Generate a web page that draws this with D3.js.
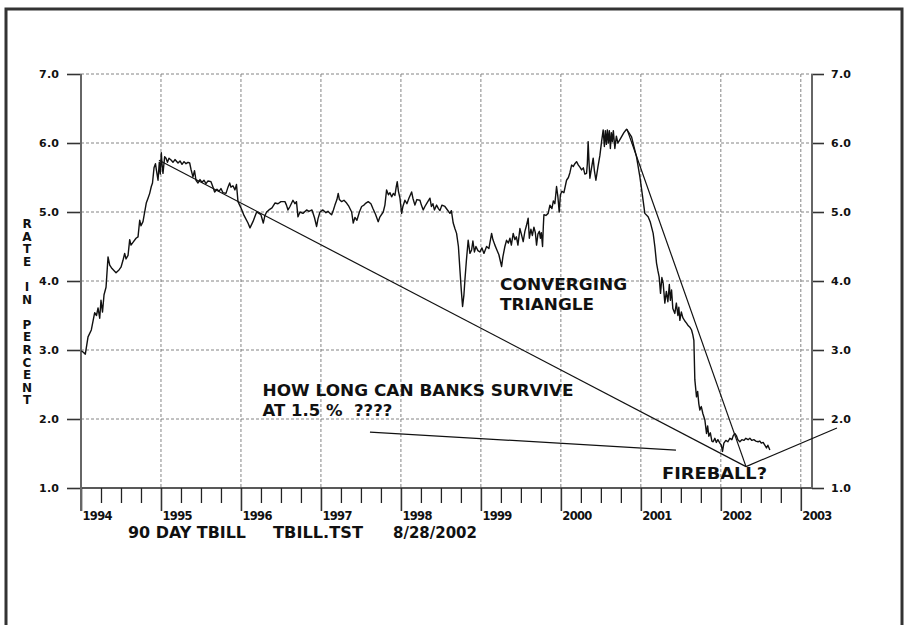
<!DOCTYPE html>
<html>
<head>
<meta charset="utf-8">
<title>90 DAY TBILL</title>
<script src="https://cdn.jsdelivr.net/npm/d3@7/dist/d3.min.js"></script>
<style>
  body { margin: 0; background: #fff; }
  svg text { font-family: "DejaVu Sans", Arial, sans-serif; font-weight: bold; fill: #111; }
</style>
</head>
<body>
<div id="chart"></div>
<script>
// year ticks and rate ticks
var years = [1994, 1995, 1996, 1997, 1998, 1999, 2000, 2001, 2002, 2003];
var rateTicks = [1, 2, 3, 4, 5, 6, 7];
var yLabel = ["R", "A", "T", "E", "", "I", "N", "", "P", "E", "R", "C", "E", "N", "T"];

// 90 day tbill rate, [decimal year, percent]
var tbill = [
  [1994.004, 2.99], [1994.025, 2.97], [1994.054, 2.94], [1994.088, 3.19], [1994.129, 3.29],
  [1994.171, 3.54], [1994.194, 3.50], [1994.213, 3.61], [1994.234, 3.46], [1994.25, 3.72],
  [1994.269, 3.55], [1994.288, 3.80], [1994.313, 3.91], [1994.338, 4.35], [1994.359, 4.23],
  [1994.388, 4.18], [1994.438, 4.12], [1994.475, 4.16], [1994.5, 4.20], [1994.525, 4.30],
  [1994.546, 4.40], [1994.563, 4.32], [1994.588, 4.37], [1994.609, 4.60], [1994.625, 4.52],
  [1994.65, 4.56], [1994.688, 4.62], [1994.713, 4.64], [1994.734, 4.88], [1994.75, 4.80],
  [1994.775, 4.86], [1994.816, 5.13], [1994.838, 5.20], [1994.859, 5.27], [1994.879, 5.37],
  [1994.894, 5.42], [1994.913, 5.64], [1994.931, 5.70], [1994.944, 5.60], [1994.963, 5.46],
  [1994.979, 5.72], [1994.991, 5.55], [1995.004, 5.86], [1995.013, 5.70], [1995.025, 5.56],
  [1995.046, 5.80], [1995.063, 5.78], [1995.081, 5.72], [1995.1, 5.78], [1995.129, 5.75],
  [1995.15, 5.72], [1995.175, 5.76], [1995.213, 5.71], [1995.238, 5.74], [1995.263, 5.69],
  [1995.288, 5.73], [1995.313, 5.70], [1995.338, 5.72], [1995.359, 5.71], [1995.375, 5.62],
  [1995.4, 5.51], [1995.419, 5.60], [1995.438, 5.46], [1995.463, 5.42], [1995.488, 5.47],
  [1995.513, 5.43], [1995.538, 5.46], [1995.563, 5.41], [1995.588, 5.45], [1995.625, 5.44],
  [1995.644, 5.38], [1995.671, 5.29], [1995.7, 5.33], [1995.725, 5.30], [1995.75, 5.34],
  [1995.775, 5.28], [1995.813, 5.27], [1995.838, 5.36], [1995.859, 5.42], [1995.875, 5.36],
  [1995.9, 5.38], [1995.925, 5.32], [1995.944, 5.40], [1995.963, 5.15], [1996.0, 5.06],
  [1996.038, 4.95], [1996.088, 4.84], [1996.113, 4.77], [1996.15, 4.86], [1996.196, 5.00],
  [1996.225, 4.98], [1996.25, 4.96], [1996.279, 4.84], [1996.3, 4.95], [1996.321, 5.00],
  [1996.35, 5.03], [1996.388, 5.06], [1996.425, 5.13], [1996.463, 5.12], [1996.5, 5.15],
  [1996.55, 5.15], [1996.569, 5.10], [1996.588, 5.03], [1996.613, 5.08], [1996.65, 5.17],
  [1996.675, 5.12], [1996.694, 5.15], [1996.713, 4.93], [1996.738, 5.00], [1996.775, 4.98],
  [1996.821, 5.03], [1996.85, 5.01], [1996.888, 5.03], [1996.919, 4.92], [1996.946, 4.79],
  [1996.963, 4.90], [1996.988, 5.00], [1997.025, 5.03], [1997.063, 4.99], [1997.088, 5.01],
  [1997.113, 4.98], [1997.134, 4.96], [1997.156, 5.03], [1997.175, 5.10], [1997.2, 5.18],
  [1997.216, 5.27], [1997.231, 5.18], [1997.259, 5.15], [1997.288, 5.17], [1997.321, 5.13],
  [1997.35, 5.08], [1997.384, 5.00], [1997.404, 4.84], [1997.425, 4.92], [1997.45, 4.88],
  [1997.481, 5.00], [1997.509, 5.08], [1997.538, 5.10], [1997.563, 5.13], [1997.591, 5.15],
  [1997.625, 5.12], [1997.65, 5.05], [1997.681, 4.97], [1997.716, 4.86], [1997.738, 4.93],
  [1997.779, 5.00], [1997.8, 5.10], [1997.821, 5.32], [1997.844, 5.25], [1997.863, 5.28],
  [1997.884, 5.22], [1997.906, 5.27], [1997.925, 5.24], [1997.941, 5.36], [1997.954, 5.44],
  [1997.969, 5.30], [1997.988, 5.20], [1998.009, 4.98], [1998.025, 5.08], [1998.05, 5.17],
  [1998.075, 5.12], [1998.1, 5.20], [1998.134, 5.29], [1998.15, 5.20], [1998.175, 5.10],
  [1998.2, 5.18], [1998.238, 5.17], [1998.256, 5.10], [1998.279, 5.03], [1998.3, 5.08],
  [1998.325, 5.13], [1998.363, 5.20], [1998.381, 5.08], [1998.4, 5.12], [1998.419, 5.03],
  [1998.446, 5.10], [1998.469, 5.05], [1998.488, 5.02], [1998.513, 5.10], [1998.55, 5.08],
  [1998.575, 5.04], [1998.613, 4.98], [1998.631, 5.02], [1998.654, 4.84], [1998.675, 4.76],
  [1998.696, 4.69], [1998.719, 4.50], [1998.738, 4.16], [1998.756, 3.85], [1998.771, 3.63],
  [1998.788, 3.80], [1998.8, 4.01], [1998.819, 4.30], [1998.841, 4.59], [1998.863, 4.40],
  [1998.884, 4.45], [1998.9, 4.58], [1998.919, 4.42], [1998.938, 4.50], [1998.963, 4.44],
  [1998.988, 4.42], [1999.013, 4.48], [1999.038, 4.40], [1999.071, 4.50], [1999.1, 4.47],
  [1999.134, 4.69], [1999.15, 4.60], [1999.175, 4.52], [1999.2, 4.45], [1999.225, 4.38],
  [1999.259, 4.21], [1999.275, 4.35], [1999.3, 4.50], [1999.321, 4.59], [1999.344, 4.55],
  [1999.363, 4.62], [1999.381, 4.52], [1999.404, 4.69], [1999.425, 4.60], [1999.444, 4.64],
  [1999.463, 4.52], [1999.488, 4.76], [1999.506, 4.68], [1999.529, 4.57], [1999.55, 4.72],
  [1999.569, 4.80], [1999.591, 4.91], [1999.606, 4.62], [1999.625, 4.75], [1999.644, 4.66],
  [1999.663, 4.78], [1999.681, 4.70], [1999.696, 4.52], [1999.713, 4.68], [1999.731, 4.72],
  [1999.744, 4.62], [1999.756, 4.70], [1999.771, 4.50], [1999.781, 4.80], [1999.788, 4.96],
  [1999.813, 4.95], [1999.841, 4.98], [1999.863, 5.10], [1999.888, 5.05], [1999.906, 5.16],
  [1999.925, 5.12], [1999.946, 5.37], [1999.963, 5.22], [1999.979, 5.00], [1999.994, 5.25],
  [2000.013, 5.30], [2000.038, 5.28], [2000.071, 5.46], [2000.094, 5.50], [2000.113, 5.57],
  [2000.134, 5.68], [2000.156, 5.66], [2000.175, 5.70], [2000.196, 5.73], [2000.219, 5.68],
  [2000.238, 5.65], [2000.259, 5.61], [2000.281, 5.64], [2000.3, 5.55], [2000.321, 5.56],
  [2000.331, 5.70], [2000.341, 6.02], [2000.353, 5.70], [2000.363, 5.49], [2000.381, 5.62],
  [2000.404, 5.78], [2000.419, 5.60], [2000.438, 5.46], [2000.463, 5.65], [2000.488, 5.82],
  [2000.509, 6.02], [2000.529, 6.19], [2000.544, 5.95], [2000.556, 6.18], [2000.569, 5.98],
  [2000.581, 6.19], [2000.594, 6.00], [2000.606, 6.18], [2000.619, 5.92], [2000.631, 6.15],
  [2000.644, 6.02], [2000.656, 6.18], [2000.675, 5.92], [2000.694, 6.10], [2000.713, 6.00],
  [2000.738, 6.05], [2000.763, 6.10], [2000.788, 6.15], [2000.821, 6.20], [2000.844, 6.16],
  [2000.884, 6.09], [2000.913, 5.95], [2000.946, 5.80], [2000.988, 5.51], [2001.013, 5.30],
  [2001.05, 4.98], [2001.091, 4.93], [2001.119, 4.85], [2001.154, 4.69], [2001.175, 4.50],
  [2001.196, 4.26], [2001.213, 4.15], [2001.229, 4.06], [2001.246, 3.82], [2001.263, 4.05],
  [2001.279, 3.97], [2001.3, 3.68], [2001.319, 3.85], [2001.338, 3.70], [2001.356, 3.95],
  [2001.369, 3.72], [2001.384, 3.87], [2001.4, 3.60], [2001.425, 3.53], [2001.444, 3.68],
  [2001.463, 3.50], [2001.475, 3.62], [2001.488, 3.43], [2001.506, 3.55], [2001.525, 3.47],
  [2001.55, 3.42], [2001.571, 3.39], [2001.594, 3.35], [2001.613, 3.33], [2001.634, 3.29],
  [2001.65, 3.22], [2001.663, 3.14], [2001.675, 2.57], [2001.696, 2.32], [2001.71, 2.40],
  [2001.725, 2.22], [2001.738, 2.13], [2001.756, 2.18], [2001.775, 2.08], [2001.8, 1.99],
  [2001.821, 1.79], [2001.835, 1.90], [2001.85, 1.75], [2001.869, 1.80], [2001.888, 1.68],
  [2001.904, 1.67], [2001.925, 1.72], [2001.944, 1.66], [2001.963, 1.70], [2001.988, 1.65],
  [2002.006, 1.62], [2002.021, 1.53], [2002.038, 1.65], [2002.063, 1.69], [2002.088, 1.67],
  [2002.113, 1.72], [2002.138, 1.70], [2002.156, 1.76], [2002.175, 1.79], [2002.194, 1.76],
  [2002.213, 1.70], [2002.238, 1.67], [2002.263, 1.70], [2002.288, 1.69], [2002.313, 1.72],
  [2002.341, 1.70], [2002.363, 1.72], [2002.388, 1.69], [2002.413, 1.70], [2002.438, 1.68],
  [2002.466, 1.67], [2002.488, 1.68], [2002.506, 1.65], [2002.529, 1.66], [2002.55, 1.62],
  [2002.571, 1.58], [2002.588, 1.62], [2002.613, 1.55]
];

// hand drawn trend lines, [[year, rate], [year, rate]]
var trendLines = [
  [[1994.975, 5.75], [2002.315, 1.31]],
  [[2000.827, 6.20], [2002.315, 1.31]],
  [[2002.315, 1.31], [2003.452, 1.87]],
  [[1997.613, 1.81], [2001.439, 1.55]]
];

var width = 906, height = 625;

var x = d3.scaleLinear().domain([1994, 2003.14]).range([81, 812]);
var y = d3.scaleLinear().domain([1, 7]).range([488, 74]);

var svg = d3.select("#chart").append("svg")
    .attr("width", width)
    .attr("height", height);

// outer frame
svg.append("rect")
    .attr("x", 6).attr("y", 9)
    .attr("width", 896).attr("height", 640)
    .attr("fill", "none")
    .attr("stroke", "#333")
    .attr("stroke-width", 3);

// gridlines
svg.selectAll("line.hgrid")
    .data(rateTicks.filter(function (d) { return d > 1; }))
    .enter().append("line")
    .attr("class", "hgrid")
    .attr("x1", x(1994)).attr("x2", x(2003.14))
    .attr("y1", function (d) { return y(d); })
    .attr("y2", function (d) { return y(d); })
    .attr("stroke", "#666").attr("stroke-width", 0.8)
    .attr("stroke-dasharray", "3,2");

svg.selectAll("line.vgrid")
    .data(years.filter(function (d) { return d > 1994; }))
    .enter().append("line")
    .attr("class", "vgrid")
    .attr("x1", function (d) { return x(d); })
    .attr("x2", function (d) { return x(d); })
    .attr("y1", y(7)).attr("y2", y(1))
    .attr("stroke", "#666").attr("stroke-width", 0.8)
    .attr("stroke-dasharray", "3,2");

// bottom axis: quarter ticks, then year ticks with labels
var quarters = d3.range(1994.25, 2003, 0.25).filter(function (d) { return d % 1 !== 0; });

svg.append("g")
    .attr("transform", "translate(0," + y(1) + ")")
    .call(d3.axisBottom(x).tickValues(quarters).tickSize(15).tickFormat(""))
    .call(function (g) { g.select(".domain").remove(); })
    .selectAll("line").attr("stroke", "#222").attr("stroke-width", 1.3);

var xAxis = svg.append("g")
    .attr("transform", "translate(0," + y(1) + ")")
    .call(d3.axisBottom(x).tickValues(years).tickSize(23).tickFormat(d3.format("d")));
xAxis.select(".domain").remove();
xAxis.selectAll("line").attr("stroke", "#333").attr("stroke-width", 1.6);
xAxis.selectAll("text")
    .attr("text-anchor", "start")
    .attr("x", 1)
    .attr("y", 32)
    .attr("dy", 0)
    .attr("font-size", 11.5)
    .attr("textLength", 30)
    .attr("font-family", null)
    .style("fill", "#111");

svg.append("line")
    .attr("x1", x(1994)).attr("x2", x(2003.14))
    .attr("y1", y(1)).attr("y2", y(1))
    .attr("stroke", "#222").attr("stroke-width", 1.5);

// left and right rate axes
var leftAxis = svg.append("g")
    .attr("transform", "translate(" + x(1994) + ",0)")
    .call(d3.axisLeft(y).tickValues(rateTicks).tickSize(14).tickPadding(8).tickFormat(d3.format(".1f")));
leftAxis.select(".domain").remove();

var rightAxis = svg.append("g")
    .attr("transform", "translate(" + x(2003.14) + ",0)")
    .call(d3.axisRight(y).tickValues(rateTicks).tickSize(12).tickPadding(7).tickFormat(d3.format(".1f")));
rightAxis.select(".domain").remove();

[leftAxis, rightAxis].forEach(function (g) {
  g.selectAll("line").attr("stroke", "#333").attr("stroke-width", 1.6);
  g.selectAll("text").attr("font-size", 11).attr("font-family", null).attr("textLength", 20).style("fill", "#111");
});

svg.append("line")
    .attr("x1", x(1994)).attr("x2", x(1994))
    .attr("y1", y(7)).attr("y2", y(1) + 23)
    .attr("stroke", "#666").attr("stroke-width", 2);
svg.append("line")
    .attr("x1", x(2003.14)).attr("x2", x(2003.14))
    .attr("y1", y(7)).attr("y2", y(1))
    .attr("stroke", "#666").attr("stroke-width", 2);

// stacked y label
svg.selectAll("text.ylab")
    .data(yLabel)
    .enter().append("text")
    .attr("class", "ylab")
    .attr("x", 27)
    .attr("y", function (d, i) { return 228 + i * 12.6; })
    .attr("text-anchor", "middle")
    .attr("font-size", 12)
    .text(function (d) { return d; });

// the rate series
var line = d3.line()
    .x(function (d) { return x(d[0]); })
    .y(function (d) { return y(d[1]); });

svg.append("path")
    .datum(tbill)
    .attr("d", line)
    .attr("fill", "none")
    .attr("stroke", "#111")
    .attr("stroke-width", 1.4)
    .attr("stroke-linejoin", "round");

svg.selectAll("path.trend")
    .data(trendLines)
    .enter().append("path")
    .attr("class", "trend")
    .attr("d", line)
    .attr("fill", "none")
    .attr("stroke", "#111")
    .attr("stroke-width", 1.2);

// notes on the chart
function note(t, px, py, size, len) {
  var el = svg.append("text")
      .attr("x", px).attr("y", py)
      .attr("font-size", size)
      .style("white-space", "pre")
      .text(t);
  if (len) el.attr("textLength", len).attr("lengthAdjust", "spacingAndGlyphs");
}

note("CONVERGING", x(1999.24), y(3.87), 16.5, 127);
note("TRIANGLE", x(1999.24), y(3.58), 16.5, 94);
note("HOW LONG CAN BANKS SURVIVE", x(1996.27), y(2.33), 16.5, 311);
note("AT 1.5 %  ????", x(1996.27), y(2.05), 16.5, null);
note("FIREBALL?", x(2001.265), y(1.13), 16.5, 105);

note("90 DAY TBILL", 128, 538, 15.5, 118);
note("TBILL.TST", 273, 538, 15.5, 90);
note("8/28/2002", 393, 538, 15.5, 84);
</script>
</body>
</html>
